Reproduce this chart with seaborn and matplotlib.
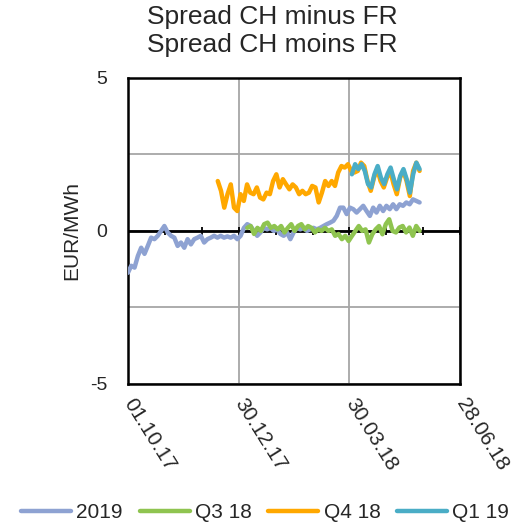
import pandas as pd
import matplotlib.pyplot as plt
import matplotlib.dates as mdates
import seaborn as sns

# Spread CH minus FR (EUR/MWh)
s2019_start, s2019_end = "2017-10-01", "2018-05-26"
s2019 = [-1.37, -1.14, -1.2, -0.82, -0.55, -0.75, -0.49, -0.22, -0.27, -0.16,
         0.0, 0.16, -0.05, -0.16, -0.22, -0.49, -0.38, -0.55, -0.27, -0.44,
         -0.27, -0.22, -0.16, -0.38, -0.27, -0.22, -0.16, -0.22, -0.16, -0.22,
         -0.18, -0.22, -0.16, -0.27, -0.16,
         0.1, 0.22, 0.16, 0.0, -0.16, -0.05, 0.1, 0.05, 0.1, 0.0,
         0.05, -0.1, -0.16, -0.05, -0.27, -0.05, 0.1, 0.05, 0.1, 0.0,
         0.05, 0.1, 0.05, 0.1, 0.16, 0.22, 0.27, 0.33, 0.49, 0.76,
         0.76, 0.55, 0.76, 0.71,
         0.6, 0.71, 0.82, 0.65, 0.49, 0.76, 0.6, 0.82, 0.65, 0.82,
         0.71, 0.87, 0.71, 0.87, 0.82, 0.93, 0.87, 1.03, 0.98, 0.93]

q318_start, q318_end = "2018-01-06", "2018-05-26"
q318 = [0.1, 0.16, -0.1, 0.1, 0.0, 0.22, 0.27, 0.1, 0.16, 0.05,
        0.16, -0.05, 0.1, 0.22, 0.0, 0.16, 0.22, 0.05, 0.16, 0.1,
        -0.05, 0.05, 0.0, 0.1, 0.0, 0.05, -0.16, -0.1, -0.27, -0.16,
        -0.33, -0.16,
        0.0, 0.16, 0.0, 0.05, -0.38, -0.11, 0.05, 0.16, -0.11, 0.22,
        0.38, 0.0, -0.05, 0.11, 0.16, -0.05, 0.11, -0.16, 0.16, 0.0]

q418_start, q418_end = "2017-12-13", "2018-05-26"
q418 = [1.63, 1.31, 0.76, 1.2, 1.52, 0.76, 0.65, 1.2, 0.98, 1.52,
        1.25, 1.2, 1.42, 1.09, 1.03, 1.25, 1.2, 1.63, 1.85, 1.42,
        1.69, 1.52, 1.36, 1.52, 1.42, 1.2, 1.31, 1.2, 1.25, 1.47,
        1.42, 0.93, 1.25, 1.63, 1.47, 1.63, 1.47, 1.91, 2.12, 2.07,
        2.18, 1.96, 1.91,
        1.96, 2.23, 2.12, 1.63, 1.31, 1.74, 2.02, 1.63, 1.42, 1.74,
        1.96, 1.53, 1.2, 1.74, 1.96, 1.63, 1.14, 1.96, 2.23, 1.96]

q119_start, q119_end = "2018-04-01", "2018-05-26"
q119 = [1.85, 2.18, 2.02, 2.18, 1.96, 1.53, 1.42, 1.85, 2.12, 1.74,
        1.53, 1.85, 2.07, 1.69, 1.36, 1.8, 2.02, 1.69, 1.25, 1.85,
        2.23, 2.02]

labels = ["2019", "Q3 18", "Q4 18", "Q1 19"]
colors = ["#8EA2D2", "#8FC450", "#FFA800", "#4AADC6"]
tick_dates = ["2017-10-01", "2017-12-30", "2018-03-30", "2018-06-28"]

series = [(s2019_start, s2019_end, s2019), (q318_start, q318_end, q318),
          (q418_start, q418_end, q418), (q119_start, q119_end, q119)]

frames = []
for name, (start, end, vals) in zip(labels, series):
    frames.append(pd.DataFrame({
        "date": pd.date_range(start, end, periods=len(vals)),
        "value": vals,
        "contract": name,
    }))
df = pd.concat(frames, ignore_index=True)

sns.set_style("white")
plt.rcParams["font.family"] = ["Liberation Sans", "DejaVu Sans"]
plt.rcParams["axes.unicode_minus"] = False

fig = plt.figure(figsize=(5.2, 5.23), dpi=100)
ax = fig.add_axes([0.246, 0.266, 0.639, 0.585])

ax.axhline(0, color="black", lw=2, zorder=1)
# monthly tick marks on the zero line
months = pd.date_range("2017-10-01", "2018-06-28", freq="30D")
ax.vlines(months, -0.12, 0.12, color="black", lw=1.3, zorder=1)

sns.lineplot(data=df, x="date", y="value", hue="contract", hue_order=labels,
             palette=colors, lw=3.2, ax=ax, legend=False, zorder=3)

ax.set_xlim(pd.Timestamp(tick_dates[0]), pd.Timestamp(tick_dates[-1]))
ax.set_ylim(-5, 5)
ax.set_yticks([-5, 0, 5])
ax.set_yticks([-2.5, 2.5], minor=True)
ax.set_xticks(pd.to_datetime(tick_dates))
ax.xaxis.set_major_formatter(mdates.DateFormatter("%d.%m.%y"))
ax.grid(True, which="both", color="#A6A6A6", lw=1.3, zorder=0)
ax.set_axisbelow(True)
ax.tick_params(axis="y", length=0, labelsize=14, pad=15)
ax.tick_params(axis="x", length=0, labelsize=15, pad=12)
for lab in ax.get_xticklabels():
    lab.set_rotation(-58)
    lab.set_ha("left")
    lab.set_va("center")
    lab.set_rotation_mode("anchor")
for sp in ax.spines.values():
    sp.set_color("black")
    sp.set_linewidth(1.8)

ax.set_xlabel("")
ax.set_ylabel("EUR/MWh", fontsize=15, labelpad=6)
fig.suptitle("Spread CH minus FR\nSpread CH moins FR", fontsize=19,
             x=0.523, y=0.99, va="top", linespacing=1.2)

handles = [plt.Line2D([], [], color=c, lw=3.2) for c in colors]
fig.legend(handles, labels, loc="center", bbox_to_anchor=(0.51, 0.02),
           ncol=4, frameon=False, fontsize=15, handlelength=2.4,
           handletextpad=0.25, columnspacing=0.8)

fig.savefig("out.png", dpi=100)
